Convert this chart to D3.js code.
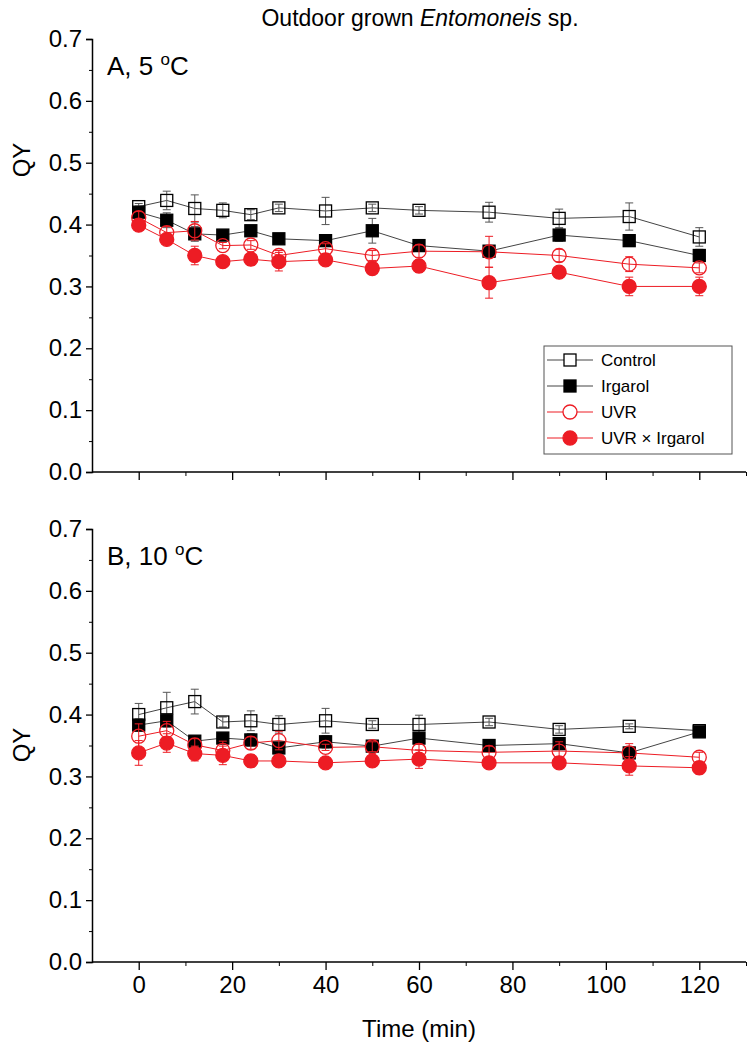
<!DOCTYPE html>
<html><head><meta charset="utf-8">
<script src="https://cdn.jsdelivr.net/npm/d3@7"></script>
<style>body{margin:0;background:#fff}svg{display:block}text{font-family:"Liberation Sans",Arial,sans-serif;fill:#000}</style>
</head><body><svg id="c" width="750" height="1049"></svg>
<script>
const time = [0,6,12,18,24,30,40,50,60,75,90,105,120];
const seriesNames = ["Control","Irgarol","UVR","UVR \u00d7 Irgarol"];
const yTicks = [0,0.1,0.2,0.3,0.4,0.5,0.6,0.7];
const xTicks = [0,20,40,60,80,100,120];
// Panel A, 5 °C
const ctrlA = [0.429,0.439,0.426,0.423,0.416,0.427,0.422,0.427,0.423,0.420,0.410,0.413,0.380];
const irgA  = [0.420,0.407,0.385,0.383,0.390,0.377,0.374,0.390,0.366,0.357,0.383,0.374,0.350];
const uvrA  = [0.411,0.387,0.390,0.366,0.367,0.350,0.361,0.350,0.357,0.356,0.350,0.336,0.330];
const uviA  = [0.399,0.376,0.350,0.340,0.344,0.340,0.343,0.329,0.333,0.306,0.323,0.300,0.300];
const ctrlAerr = [0.005,0.015,0.022,0.012,0.008,0.006,0.022,0.006,0.006,0.016,0.015,0.022,0.015];
const irgAerr  = [0.010,0.012,0.012,0.005,0.005,0.005,0.005,0.020,0.004,0.004,0.010,0.008,0.010];
const uvrAerr  = [0.010,0.010,0.015,0.005,0.007,0.008,0.008,0.008,0.010,0.025,0.010,0.012,0.008];
const uviAerr  = [0.008,0.007,0.015,0.007,0.010,0.015,0.005,0.005,0.010,0.025,0.005,0.015,0.015];
// Panel B, 10 °C
const ctrlB = [0.400,0.411,0.421,0.388,0.390,0.384,0.390,0.384,0.384,0.388,0.376,0.381,0.374];
const irgB  = [0.383,0.390,0.357,0.362,0.359,0.346,0.356,0.349,0.362,0.350,0.353,0.338,0.372];
const uvrB  = [0.365,0.374,0.351,0.342,0.354,0.358,0.347,0.348,0.342,0.339,0.341,0.338,0.331];
const uviB  = [0.338,0.354,0.337,0.334,0.325,0.325,0.322,0.325,0.328,0.322,0.322,0.317,0.314];
const ctrlBerr = [0.018,0.025,0.020,0.008,0.016,0.014,0.020,0.006,0.015,0.006,0.006,0.004,0.004];
const irgBerr  = [0.010,0.010,0.006,0.008,0.010,0.008,0.010,0.005,0.008,0.005,0.008,0.010,0.004];
const uvrBerr  = [0.020,0.015,0.010,0.015,0.010,0.015,0.005,0.008,0.010,0.010,0.015,0.015,0.008];
const uviBerr  = [0.020,0.015,0.012,0.015,0.010,0.008,0.005,0.008,0.015,0.005,0.005,0.015,0.010];

const RED = "#ed1c24", LINEGRAY = "#444";
const styles = [
  {name:seriesNames[0], shape:"square", fill:"#fff", stroke:"#000", line:LINEGRAY, err:"#555"},
  {name:seriesNames[1], shape:"square", fill:"#000", stroke:"#000", line:LINEGRAY, err:"#555"},
  {name:seriesNames[2], shape:"circle", fill:"#fff", stroke:RED, line:RED, err:RED},
  {name:seriesNames[3], shape:"circle", fill:RED, stroke:RED, line:RED, err:RED}
];

const svg = d3.select("#c");
const x = d3.scaleLinear().domain([-10,130]).range([92,746]);

svg.append("text").attr("x",420).attr("y",26).attr("text-anchor","middle")
  .style("font-size","23px")
  .call(t=>{t.append("tspan").text("Outdoor grown ");
            t.append("tspan").style("font-style","italic").text("Entomoneis");
            t.append("tspan").text(" sp.");});

function panel(top, bottom, label, temp, data, errs, showXLabels, qyY, legend){
  const y = d3.scaleLinear().domain([0,0.7]).range([bottom, top]);
  const g = svg.append("g");
  const ya = d3.axisLeft(y).tickValues(yTicks).tickFormat(d3.format(".1f")).tickSize(6).tickPadding(4);
  const yg = g.append("g").attr("transform",`translate(${x(-10)},0)`).call(ya);
  yg.select(".domain").attr("stroke","#000").attr("stroke-width",1.5);
  yg.selectAll(".tick line").attr("stroke-width",1.3);
  yg.selectAll("text").style("font-size","24px").attr("font-family","Liberation Sans, Arial");
  const yminor = d3.axisLeft(y).tickValues(d3.range(0.05,0.7,0.1)).tickSize(3).tickFormat("");
  g.append("g").attr("transform",`translate(${x(-10)},0)`).call(yminor).select(".domain").remove();
  const xa = d3.axisBottom(x).tickValues(xTicks).tickSize(8).tickPadding(6)
     .tickFormat(showXLabels ? d3.format("d") : "");
  const xg = g.append("g").attr("transform",`translate(0,${bottom})`).call(xa);
  xg.select(".domain").attr("stroke","#000").attr("stroke-width",1.5).attr("d",`M${x(-10)},0H${x(130)}`);
  xg.selectAll(".tick line").attr("stroke-width",1.3);
  xg.selectAll("text").style("font-size","24px");
  const xminor = d3.axisBottom(x).tickValues([10,30,50,70,90,110,130]).tickSize(4).tickFormat("");
  g.append("g").attr("transform",`translate(0,${bottom})`).call(xminor).select(".domain").remove();
  g.selectAll(".tick line").attr("stroke","#000");

  g.append("text").attr("transform",`translate(30,${qyY}) rotate(-90)`).attr("text-anchor","middle")
    .style("font-size","24px").text("QY");
  const pl = g.append("text").attr("x",x(-10)+15).attr("y",top+36).style("font-size","26px");
  pl.append("tspan").text(label + ", " + temp + " ");
  pl.append("tspan").attr("dy",-10).style("font-size","17px").text("o");
  pl.append("tspan").attr("dy",10).text("C");

  const line = d3.line().x(d=>x(d.t)).y(d=>y(d.v));
  data.forEach((vals,i)=>{
    const st = styles[i];
    const pts = time.map((t,k)=>({t, v:vals[k], e:errs[i][k]}));
    g.append("path").datum(pts).attr("d",line).attr("fill","none")
      .attr("stroke",st.line).attr("stroke-width",1);
  });
  data.forEach((vals,i)=>{
    const st = styles[i];
    const pts = time.map((t,k)=>({t, v:vals[k], e:errs[i][k]}));
    const eg = g.append("g").attr("stroke",st.err).attr("stroke-width",1);
    pts.forEach(p=>{
      const cx = x(p.t), y1 = y(p.v+p.e), y2 = y(p.v-p.e);
      eg.append("line").attr("x1",cx).attr("x2",cx).attr("y1",y1).attr("y2",y2);
      eg.append("line").attr("x1",cx-4).attr("x2",cx+4).attr("y1",y1).attr("y2",y1);
      eg.append("line").attr("x1",cx-4).attr("x2",cx+4).attr("y1",y2).attr("y2",y2);
    });
    const mg = g.append("g");
    pts.forEach(p=>{
      if(st.shape==="square"){
        mg.append("rect").attr("x",x(p.t)-6).attr("y",y(p.v)-6).attr("width",12).attr("height",12)
          .attr("fill",st.fill).attr("fill-opacity",st.fill==="#fff"?0:1).attr("stroke",st.stroke).attr("stroke-width",1.3);
      } else {
        mg.append("circle").attr("cx",x(p.t)).attr("cy",y(p.v)).attr("r",7)
          .attr("fill",st.fill).attr("fill-opacity",st.fill==="#fff"?0:1).attr("stroke",st.stroke).attr("stroke-width",1.3);
      }
    });
  });

  if(legend){
    const lx = 544, ly = 346, lw = 188, lh = 108;
    const lg = g.append("g");
    lg.append("rect").attr("x",lx).attr("y",ly).attr("width",lw).attr("height",lh)
      .attr("fill","#fff").attr("stroke","#555").attr("stroke-width",1);
    styles.forEach((st,i)=>{
      const cy = ly + 14 + i*26;
      lg.append("line").attr("x1",lx+3).attr("x2",lx+49).attr("y1",cy).attr("y2",cy)
        .attr("stroke",st.line).attr("stroke-width",1);
      if(st.shape==="square"){
        lg.append("rect").attr("x",lx+26-6).attr("y",cy-6).attr("width",12).attr("height",12)
          .attr("fill",st.fill).attr("stroke",st.stroke).attr("stroke-width",1.3);
      } else {
        lg.append("circle").attr("cx",lx+26).attr("cy",cy).attr("r",7)
          .attr("fill",st.fill).attr("stroke",st.stroke).attr("stroke-width",1.3);
      }
      lg.append("text").attr("x",lx+57).attr("y",cy+6).style("font-size","17px").text(st.name);
    });
  }
}

panel(39, 472, "A", "5", [ctrlA,irgA,uvrA,uviA], [ctrlAerr,irgAerr,uvrAerr,uviAerr], false, 160, true);
panel(529, 962, "B", "10", [ctrlB,irgB,uvrB,uviB], [ctrlBerr,irgBerr,uvrBerr,uviBerr], true, 745, false);

svg.append("text").attr("x",x(60)).attr("y",1037).attr("text-anchor","middle")
  .style("font-size","24px").text("Time (min)");
</script></body></html>
